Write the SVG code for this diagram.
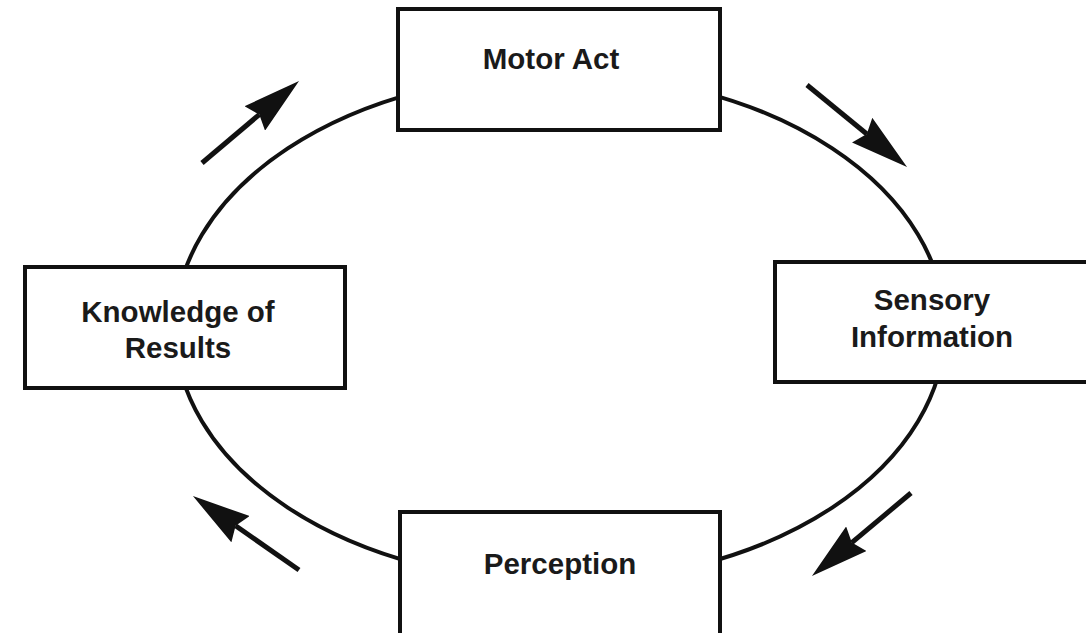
<svg xmlns="http://www.w3.org/2000/svg" width="1086" height="633" viewBox="0 0 1086 633">
  <style>
    .box { fill: #ffffff; stroke: #111111; stroke-width: 4; }
    .lbl { font-family: "Liberation Sans", Arial, sans-serif; font-weight: bold; font-size: 29.5px; fill: #1a1a1a; text-anchor: middle; }
    .cycle { fill: none; stroke: #111111; stroke-width: 4; }
    .arr { fill: none; stroke: #111111; stroke-width: 5; marker-end: url(#head); }
  </style>
  <defs>
    <marker id="head" viewBox="0 0 58 32" refX="6" refY="16" markerWidth="58" markerHeight="32" markerUnits="userSpaceOnUse" orient="auto">
      <path d="M0,0 L58,16 L0,32 L6,16 Z" fill="#111111"/>
    </marker>
  </defs>
  <rect width="1086" height="633" fill="#ffffff"/>
  <g id="connectors">
    <ellipse class="cycle" cx="560" cy="328" rx="385" ry="254"/>
    <path class="arr" d="M202,163 L259.3,114.6"/>
    <path class="arr" d="M807,85 L866.8,134"/>
    <path class="arr" d="M911,493 L851.8,542.6"/>
    <path class="arr" d="M299,570 L235.6,525.8"/>
  </g>
  <g id="motor-act">
    <rect class="box" x="398" y="9" width="322" height="121"/>
    <text class="lbl" x="551" y="69">Motor Act</text>
  </g>
  <g id="sensory-information">
    <rect class="box" x="775" y="262" width="330" height="120"/>
    <text class="lbl" x="932" y="310">Sensory</text>
    <text class="lbl" x="932" y="347">Information</text>
  </g>
  <g id="perception">
    <rect class="box" x="400" y="512" width="320" height="140"/>
    <text class="lbl" x="560" y="574">Perception</text>
  </g>
  <g id="knowledge-of-results">
    <rect class="box" x="25" y="267" width="320" height="121"/>
    <text class="lbl" x="178" y="322">Knowledge of</text>
    <text class="lbl" x="178" y="358">Results</text>
  </g>
</svg>
